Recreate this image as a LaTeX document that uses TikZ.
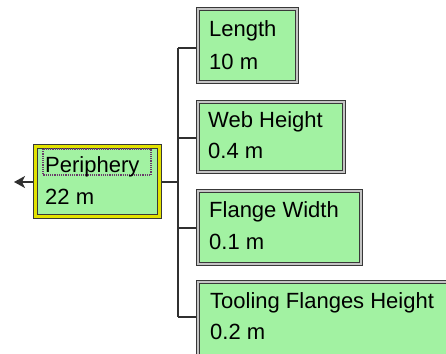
\documentclass[tikz,border=0pt]{standalone}
\usepackage{fontspec}
\setmainfont{Liberation Sans}
\usetikzlibrary{arrows.meta}
\definecolor{boxline}{HTML}{383838}
\definecolor{boxgap}{HTML}{C4C4C4}
\definecolor{boxfill}{HTML}{A2F2A2}
\definecolor{selband}{HTML}{E2E200}
\definecolor{focus}{HTML}{6A3A6A}
\definecolor{conline}{HTML}{303030}
\pgfdeclarelayer{bg}
\pgfsetlayers{bg,main}
\begin{document}
\begin{tikzpicture}[x=1pt,y=-1pt,
  box/.style={draw=boxline, line width=1pt, double=boxgap, double distance=2pt,
    fill=boxfill, anchor=north west, inner sep=0pt},
  selbox/.style={box, double=selband, double distance=3pt},
  lbl/.style={anchor=base west, inner sep=0pt, text=black,
    font=\fontsize{22}{26}\selectfont},
  conn/.style={draw=conline, line width=1.5pt}]
\useasboundingbox (0,0) rectangle (446,353);
\clip (0,0) rectangle (446,353);
% junction points
\coordinate (tip) at (14,182);
\coordinate (j0) at (178,182);
\coordinate (j1) at (178,48);
\coordinate (j2) at (178,138);
\coordinate (j3) at (178,228);
\coordinate (j4) at (178,317);
% boxes
\node[selbox, minimum width=124pt, minimum height=70pt] (per) at (34.5,145.5) {};
\node[box, minimum width=99pt, minimum height=72pt] (len) at (197,9) {};
\node[box, minimum width=146pt, minimum height=70pt] (web) at (197,101) {};
\node[box, minimum width=163pt, minimum height=73pt] (fla) at (197,190) {};
\node[box, minimum width=261pt, minimum height=77pt] (too) at (197,281) {};
% connectors behind the boxes
\begin{pgfonlayer}{bg}
\draw[conn, -{Stealth[length=11pt,width=12pt,inset=3pt]}] (per.west |- j0) -- (tip);
\draw[conn] (per.east |- j0) -- (j0);
\draw[conn] (j1) -- (j4);
\draw[conn] (j1) -- (j1 -| len.west);
\draw[conn] (j2) -- (j2 -| web.west);
\draw[conn] (j3) -- (j3 -| fla.west);
\draw[conn] (j4) -- (j4 -| too.west);
\end{pgfonlayer}
% focus rectangle
\draw[focus, line width=1.2pt, densely dotted] (43,149) rectangle (151,175);
% labels
\node[lbl] (perA) at (45,172) {Periphery};
\node[lbl] (perB) at (45,204) {22 m};
\node[lbl] (lenA) at (209,37) {Length};
\node[lbl] (lenB) at (209,69) {10 m};
\node[lbl] (webA) at (208,127) {Web Height};
\node[lbl] (webB) at (208,158) {0.4 m};
\node[lbl] (flaA) at (209,217) {Flange Width};
\node[lbl] (flaB) at (209,249) {0.1 m};
\node[lbl] (tooA) at (210,308) {Tooling Flanges Height};
\node[lbl] (tooB) at (210,339) {0.2 m};
\end{tikzpicture}
\end{document}
